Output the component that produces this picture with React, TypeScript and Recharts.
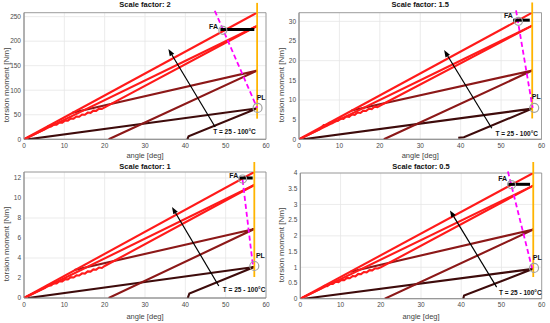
import {
  LineChart, Line, XAxis, YAxis, CartesianGrid,
  ReferenceLine, ReferenceDot, ReferenceArea,
} from 'recharts'

type Pt = [number, number]

const xTicks = [0, 10, 20, 30, 40, 50, 60]

// Scale factor: 2
const p1Ticks = [0, 50, 100, 150, 200, 250]
const p1Hot: Pt[] = [[0, 0], [57.8, 258]]
const p1Warm: Pt[] = [[0, 0], [57.8, 231]]
const p1Back: Pt[] = [[57.8, 231], [20, 65], [19.3, 62], [18.6, 62.5], [17.9, 58], [17.2, 58.5], [16.5, 54], [15.8, 54.5], [15.1, 50], [14.4, 50.5], [13.7, 46], [13, 46.5], [12.3, 42], [11.6, 42.5], [10.9, 38], [10.2, 38.5], [9.5, 34], [8.8, 34.5], [8.1, 30], [7.4, 30.5], [6.7, 26], [6, 26.5], [5.2, 21], [0, 0]]
const p1Mid: Pt[] = [[12, 54], [57.8, 140], [21, 0]]
const p1Cold: Pt[] = [[1, 0], [57.8, 63], [40.8, 6], [40.5, 0]]
const p1Limit: Pt[] = [[57.8, 42], [57.8, 278]]
const p1Path: Pt[] = [[47.3, 262], [57.8, 64]]
const p1FaBar: Pt[] = [[48.7, 224], [57.1, 224]]
const p1Arrow: Pt[] = [[47.4, 25], [35.8, 184]]
const p1Marks: Pt[] = [[49.3, 222], [57.9, 64]] // FA, PL circles
const p1Texts: Pt[] = [[47, 230], [58.8, 85], [46.9, 15.8]] // FA, PL, T

// Scale factor: 1.5
const p2Ticks = [0, 5, 10, 15, 20, 25, 30]
const p2Hot: Pt[] = [[0, 0], [57.7, 32.2]]
const p2Warm: Pt[] = [[0, 0], [57.7, 28.9]]
const p2Back: Pt[] = [[57.7, 28.9], [20.1, 8.6], [19.4, 8.2], [18.7, 8.3], [18, 7.7], [17.3, 7.8], [16.6, 7.2], [15.9, 7.3], [15.2, 6.7], [14.5, 6.8], [13.8, 6.2], [13.1, 6.3], [12.4, 5.7], [11.7, 5.8], [11, 5.2], [10.3, 5.3], [9.6, 4.7], [8.9, 4.8], [8.2, 4.1], [7.5, 4.2], [6.8, 3.5], [6.1, 3.6], [5.2, 2.6], [0, 0]]
const p2Mid: Pt[] = [[13, 7.3], [57.7, 17.5], [21, 0]]
const p2Cold: Pt[] = [[1, 0], [57.7, 7.8], [40.8, 0.5], [39.4, 0.4]]
const p2Limit: Pt[] = [[57.7, 5.3], [57.7, 34.8]]
const p2Path: Pt[] = [[53.7, 32.8], [57.8, 8.0]]
const p2FaBar: Pt[] = [[53.0, 30.3], [57.1, 30.3]]
const p2Arrow: Pt[] = [[47.7, 2.8], [35.9, 22.7]]
const p2Marks: Pt[] = [[54.3, 30.0], [58.2, 8.0]]
const p2Texts: Pt[] = [[51.8, 31.4], [58.7, 10.8], [48.6, 1.5]]

// Scale factor: 1
const p3Ticks = [0, 2, 4, 6, 8, 10, 12]
const p3Hot: Pt[] = [[0, 0], [57.1, 12.6]]
const p3Warm: Pt[] = [[0, 0], [57.1, 11.3]]
const p3Back: Pt[] = [[57.1, 11.3], [20, 3.2], [19.3, 3.0], [18.6, 3.05], [17.9, 2.83], [17.2, 2.86], [16.5, 2.64], [15.8, 2.66], [15.1, 2.44], [14.4, 2.47], [13.7, 2.25], [13, 2.27], [12.3, 2.05], [11.6, 2.08], [10.9, 1.86], [10.2, 1.88], [9.5, 1.66], [8.8, 1.68], [8.1, 1.46], [7.4, 1.49], [6.7, 1.27], [6, 1.29], [5.2, 1.02], [0, 0]]
const p3Mid: Pt[] = [[12.5, 2.8], [57.1, 6.9], [21, 0]]
const p3Cold: Pt[] = [[1, 0], [57.1, 3.1], [41, 0.45], [40.6, 0]]
const p3Limit: Pt[] = [[57.1, 2.1], [57.1, 13.6]]
const p3Path: Pt[] = [[54.2, 11.8], [56.8, 3.1]]
const p3FaBar: Pt[] = [[53.4, 12.0], [56.7, 12.0]]
const p3Arrow: Pt[] = [[48.3, 1.2], [36.7, 9.1]]
const p3Marks: Pt[] = [[54.2, 11.9], [57.1, 3.2]]
const p3Texts: Pt[] = [[52, 12.3], [58.6, 4.3], [49.3, 0.87]]

// Scale factor: 0.5
const p4Ticks = [0, 0.5, 1, 1.5, 2, 2.5, 3, 3.5, 4]
const p4Hot: Pt[] = [[0, 0], [57.9, 4]]
const p4Warm: Pt[] = [[0, 0], [57.9, 3.6]]
const p4Back: Pt[] = [[57.9, 3.6], [20, 1.0], [19.3, 0.96], [18.6, 0.97], [17.9, 0.9], [17.2, 0.91], [16.5, 0.84], [15.8, 0.85], [15.1, 0.78], [14.4, 0.79], [13.7, 0.71], [13, 0.72], [12.3, 0.65], [11.6, 0.66], [10.9, 0.59], [10.2, 0.6], [9.5, 0.53], [8.8, 0.54], [8.1, 0.47], [7.4, 0.48], [6.7, 0.4], [6, 0.41], [5.2, 0.33], [0, 0]]
const p4Mid: Pt[] = [[12.5, 0.86], [57.9, 2.2], [21, 0]]
const p4Cold: Pt[] = [[1, 0], [57.9, 0.95], [40.7, 0.1], [40.5, 0]]
const p4Limit: Pt[] = [[57.9, 0.69], [57.9, 4.35]]
const p4Path: Pt[] = [[51.6, 4.05], [57.6, 0.97]]
const p4FaBar: Pt[] = [[51.7, 3.64], [57.1, 3.64]]
const p4Arrow: Pt[] = [[48.8, 0.37], [37.2, 2.81]]
const p4Marks: Pt[] = [[52.5, 3.63], [58.1, 0.98]]
const p4Texts: Pt[] = [[50.3, 3.82], [58.9, 1.3], [49.4, 0.21]]

const RED = '#ff1a1a'
const MID = '#8c1818'
const DARK = '#3e0b0b'
const FONT = '"Liberation Sans", Arial, Helvetica, sans-serif'

const toXY = (a: Pt[]) => a.map(([x, y]) => ({ x, y }))

const arrowShape = (props: any) => {
  const { x1, y1, x2, y2 } = props
  const a = Math.atan2(y2 - y1, x2 - x1)
  const len = 7
  const half = 2.6
  const bx = x2 - len * Math.cos(a)
  const by = y2 - len * Math.sin(a)
  const nx = -Math.sin(a) * half
  const ny = Math.cos(a) * half
  return (
    <g>
      <line x1={x1} y1={y1} x2={bx} y2={by} stroke="#000" strokeWidth={1.2} />
      <polygon points={`${x2},${y2} ${bx + nx},${by + ny} ${bx - nx},${by - ny}`} fill="#000" />
    </g>
  )
}

const textShape = (label: string, anchor: 'start' | 'middle', size: number) => (props: any) => (
  <text x={props.cx} y={props.cy} textAnchor={anchor} dominantBaseline="central"
    fontSize={size} fontWeight="bold" fill="#111" fontFamily={FONT}>{label}</text>
)

interface PanelCfg {
  title: string
  left: number
  top: number
  h: number
  l: number
  r: number
  t: number
  b: number
  yMax: number
  yTicks: number[]
  hot: Pt[]; warm: Pt[]; back: Pt[]; mid: Pt[]; cold: Pt[]
  limit: Pt[]; path: Pt[]; faBar: Pt[]; arrow: Pt[]; marks: Pt[]; texts: Pt[]
}

const panels: PanelCfg[] = [
  { title: 'Scale factor: 2', left: 0, top: 0, h: 162, l: 24, r: 266, t: 12.7, b: 139.3, yMax: 258, yTicks: p1Ticks,
    hot: p1Hot, warm: p1Warm, back: p1Back, mid: p1Mid, cold: p1Cold, limit: p1Limit, path: p1Path, faBar: p1FaBar, arrow: p1Arrow, marks: p1Marks, texts: p1Texts },
  { title: 'Scale factor: 1.5', left: 275, top: 0, h: 162, l: 24, r: 266.5, t: 12.7, b: 139.3, yMax: 32.2, yTicks: p2Ticks,
    hot: p2Hot, warm: p2Warm, back: p2Back, mid: p2Mid, cold: p2Cold, limit: p2Limit, path: p2Path, faBar: p2FaBar, arrow: p2Arrow, marks: p2Marks, texts: p2Texts },
  { title: 'Scale factor: 1', left: 0, top: 162, h: 161, l: 24, r: 266, t: 10, b: 136, yMax: 12.6, yTicks: p3Ticks,
    hot: p3Hot, warm: p3Warm, back: p3Back, mid: p3Mid, cold: p3Cold, limit: p3Limit, path: p3Path, faBar: p3FaBar, arrow: p3Arrow, marks: p3Marks, texts: p3Texts },
  { title: 'Scale factor: 0.5', left: 275, top: 162, h: 161, l: 25.3, r: 266.7, t: 11, b: 136.7, yMax: 4, yTicks: p4Ticks,
    hot: p4Hot, warm: p4Warm, back: p4Back, mid: p4Mid, cold: p4Cold, limit: p4Limit, path: p4Path, faBar: p4FaBar, arrow: p4Arrow, marks: p4Marks, texts: p4Texts },
]

const tick = { fontSize: 6.5, fill: '#4a4a4a', fontFamily: FONT }

function Panel({ p }: { p: PanelCfg }) {
  const yW = 20
  const cx = (p.l + p.r) / 2
  const cy = (p.t + p.b) / 2 + 9
  const series: [Pt[], string][] = [[p.cold, DARK], [p.mid, MID], [p.back, RED], [p.warm, RED], [p.hot, RED]]
  return (
    <div style={{ position: 'absolute', left: p.left, top: p.top, width: 275, height: p.h }}>
      <LineChart width={275} height={p.h} margin={{ top: p.t, right: 275 - p.r, left: p.l - yW, bottom: 0 }}>
        <CartesianGrid stroke="#e6e6e6" strokeWidth={0.8} />
        <XAxis type="number" dataKey="x" domain={[0, 60]} ticks={xTicks} allowDataOverflow
          height={p.h - p.b} tickLine={false} tickSize={0} tickMargin={4} tick={tick}
          axisLine={{ stroke: '#8c8c8c', strokeWidth: 0.8 }} />
        <YAxis type="number" domain={[0, p.yMax]} ticks={p.yTicks} allowDataOverflow
          width={yW} tickLine={false} tickSize={0} tickMargin={3} tick={tick}
          axisLine={{ stroke: '#8c8c8c', strokeWidth: 0.8 }} />
        <ReferenceArea x1={0} x2={60} y1={0} y2={p.yMax} fill="none" stroke="#8c8c8c" strokeWidth={0.8} ifOverflow="visible" />
        {series.map(([d, c], i) => (
          <Line key={i} data={toXY(d)} dataKey="y" type="linear" stroke={c} strokeWidth={2.1}
            dot={false} activeDot={false} isAnimationActive={false} />
        ))}
        <ReferenceLine segment={toXY(p.limit)} stroke="#ffb400" strokeWidth={1.8} ifOverflow="visible" />
        <ReferenceLine segment={toXY(p.path)} stroke="#ff00ff" strokeWidth={1.8} strokeDasharray="5 3" ifOverflow="visible" />
        <ReferenceLine segment={toXY(p.faBar)} stroke="#000" strokeWidth={3} ifOverflow="visible" />
        <ReferenceLine segment={toXY(p.arrow)} shape={arrowShape} ifOverflow="visible" />
        <ReferenceDot x={p.marks[0][0]} y={p.marks[0][1]} r={4} fill="none" stroke="#a0a0a0" strokeWidth={1.2} ifOverflow="visible" />
        <ReferenceDot x={p.marks[1][0]} y={p.marks[1][1]} r={4.5} fill="none" stroke="#a0a0a0" strokeWidth={1.2} ifOverflow="visible" />
        <ReferenceDot x={p.texts[0][0]} y={p.texts[0][1]} r={0} shape={textShape('FA', 'middle', 7)} ifOverflow="visible" />
        <ReferenceDot x={p.texts[1][0]} y={p.texts[1][1]} r={0} shape={textShape('PL', 'middle', 7)} ifOverflow="visible" />
        <ReferenceDot x={p.texts[2][0]} y={p.texts[2][1]} r={0} shape={textShape('T = 25 - 100°C', 'start', 6.5)} ifOverflow="visible" />
      </LineChart>
      <div style={{ position: 'absolute', left: p.l, width: p.r - p.l, top: 0, textAlign: 'center', fontSize: 7.5, fontWeight: 'bold', lineHeight: '10px', color: '#111' }}>
        {p.title}
      </div>
      <div style={{ position: 'absolute', left: cx, top: p.h - 7, transform: 'translate(-50%, -50%)', fontSize: 7.5, color: '#444', whiteSpace: 'nowrap' }}>
        angle [deg]
      </div>
      <div style={{ position: 'absolute', left: 6, top: cy, transform: 'translate(-50%, -50%) rotate(-90deg)', fontSize: 8, color: '#444', whiteSpace: 'nowrap' }}>
        torsion moment [Nm]
      </div>
    </div>
  )
}

export default function App() {
  return (
    <div style={{ position: 'absolute', left: 0, top: 0, width: 550, height: 323, background: '#fff', fontFamily: FONT, overflow: 'hidden' }}>
      {panels.map((p, i) => <Panel key={i} p={p} />)}
    </div>
  )
}
